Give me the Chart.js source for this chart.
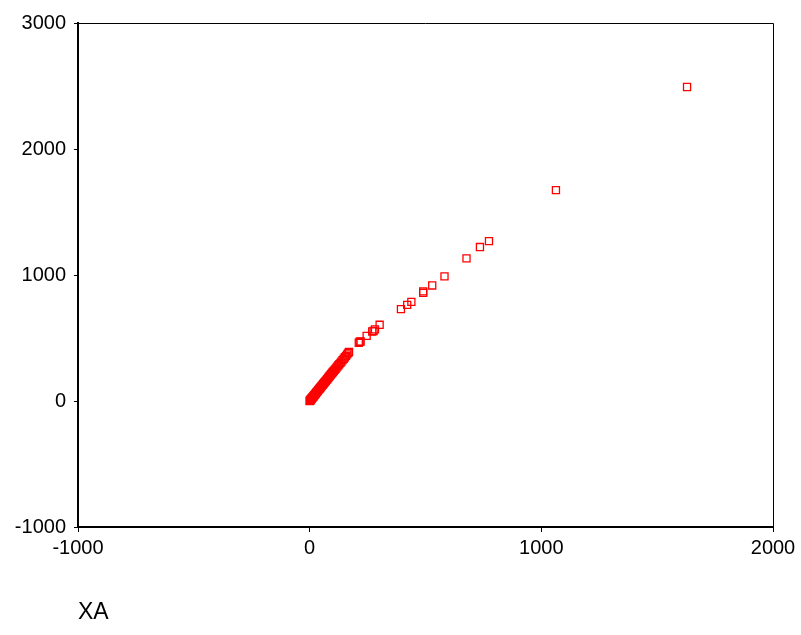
<!DOCTYPE html>
<html>
<head>
<meta charset="utf-8">
<script src="https://cdn.jsdelivr.net/npm/chart.js@4"></script>
<style>
  body { margin: 0; background: #fff; }
  canvas { display: block; }
</style>
</head>
<body>
<canvas id="grafica" width="801" height="635"></canvas>
<script>
// ===============================
// DATOS
// ===============================
const xValues = [
  0, 1, 2, 3, 4, 5, 6, 8, 9, 10, 12, 13, 15, 17, 18, 20, 22, 24, 26, 28,
  30, 32, 35, 37, 40, 42, 45, 48, 50, 53, 56, 58, 61, 64, 67, 70, 73, 76, 80, 83,
  86, 90, 93, 97, 100, 104, 108, 112, 116, 120, 124, 128, 133, 137, 142, 147, 152, 157, 162, 167,
  170, 212, 216, 220, 246, 270, 276, 282, 302, 394, 421, 439, 490, 490, 529, 582, 677, 735, 774, 1063,
  1629
];
const yValues = [
  0, 2, 5, 6, 9, 12, 14, 18, 21, 24, 27, 31, 34, 38, 42, 46, 51, 55, 60, 64,
  70, 73, 80, 86, 92, 97, 103, 110, 116, 122, 128, 134, 141, 147, 154, 160, 168, 175, 183, 191,
  198, 206, 214, 222, 230, 238, 247, 256, 265, 275, 284, 293, 303, 313, 324, 335, 347, 358, 370, 382,
  390, 462, 470, 472, 517, 552, 556, 568, 605, 729, 763, 787, 859, 870, 917, 989, 1132, 1222, 1269, 1674,
  2492
];
const xTicks = [-1000, 0, 1000, 2000];
const yTicks = [-1000, 0, 1000, 2000, 3000];
const xTitle = "XA";

const puntos = xValues.map((x, i) => ({ x, y: yValues[i] }));

// marco superior y derecho
const marco = {
  id: "marco",
  afterDraw(chart) {
    const { ctx, chartArea: a } = chart;
    ctx.save();
    ctx.strokeStyle = "#000";
    ctx.lineWidth = 1;
    ctx.beginPath();
    ctx.moveTo(a.left, a.top + 0.5);
    ctx.lineTo(a.right + 0.5, a.top + 0.5);
    ctx.lineTo(a.right + 0.5, a.bottom);
    ctx.stroke();
    ctx.restore();
  }
};

const fuente = { family: "'Liberation Sans', Arial, sans-serif", size: 20 };

new Chart(document.getElementById("grafica").getContext("2d"), {
  type: "scatter",
  data: {
    datasets: [{
      data: puntos,
      pointStyle: "rect",
      pointRadius: 5,
      pointHoverRadius: 5,
      borderColor: "#ff0000",
      backgroundColor: "rgba(0,0,0,0)",
      borderWidth: 1.3
    }]
  },
  options: {
    responsive: false,
    animation: false,
    events: [],
    layout: { padding: { left: 0, top: 23, right: 28, bottom: 0 } },
    plugins: { legend: { display: false }, tooltip: { enabled: false } },
    scales: {
      x: {
        type: "linear",
        min: -1000,
        max: 2000,
        afterBuildTicks: s => { s.ticks = xTicks.map(v => ({ value: v })); },
        afterFit: s => { s.height = 108; },
        ticks: { color: "#000", font: fuente, padding: 4, maxRotation: 0, callback: v => String(v) },
        grid: { drawOnChartArea: false, drawTicks: true, tickLength: 5, color: "#000" },
        border: { color: "#000", width: 2 },
        title: {
          display: true, text: xTitle, align: "start", color: "#000",
          font: { family: "'Liberation Sans', Arial, sans-serif", size: 23 },
          padding: { top: 0, bottom: 9 }
        }
      },
      y: {
        type: "linear",
        min: -1000,
        max: 3000,
        afterBuildTicks: s => { s.ticks = yTicks.map(v => ({ value: v })); },
        afterFit: s => { s.width = 78; },
        ticks: { color: "#000", font: fuente, padding: 8, callback: v => String(v) },
        grid: { drawOnChartArea: false, drawTicks: true, tickLength: 4, color: "#000" },
        border: { color: "#000", width: 2 }
      }
    }
  },
  plugins: [marco]
});
</script>
</body>
</html>
